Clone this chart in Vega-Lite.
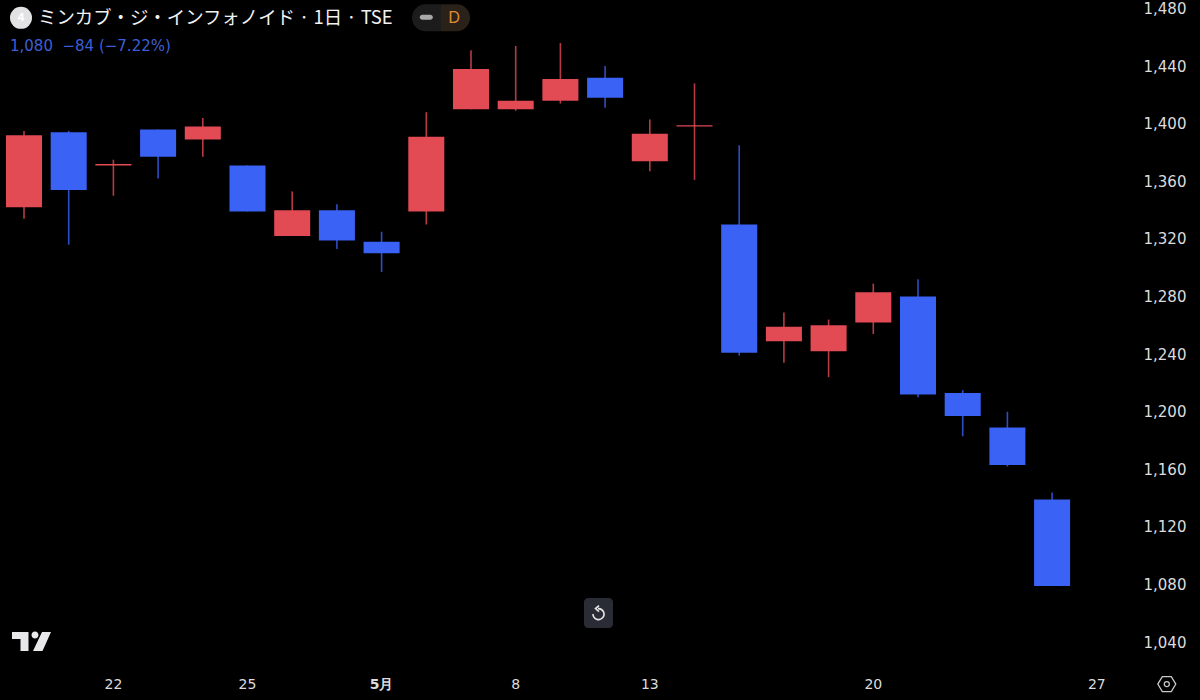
{
  "$schema": "https://vega.github.io/schema/vega-lite/v6.json",
  "width": 1130,
  "height": 670,
  "autosize": {"type": "none"},
  "padding": {"left": 0, "top": 0, "right": 70, "bottom": 30},
  "background": "#000000",
  "data": {
    "values": [
      {"date": "2024-04-18", "open": 1343, "high": 1396, "low": 1335, "close": 1393},
      {"date": "2024-04-19", "open": 1395, "high": 1396, "low": 1317, "close": 1355},
      {"date": "2024-04-22", "open": 1372, "high": 1376, "low": 1351, "close": 1373},
      {"date": "2024-04-23", "open": 1397, "high": 1397, "low": 1363, "close": 1378},
      {"date": "2024-04-24", "open": 1390, "high": 1405, "low": 1378, "close": 1399},
      {"date": "2024-04-25", "open": 1372, "high": 1372, "low": 1340, "close": 1340},
      {"date": "2024-04-26", "open": 1323, "high": 1354, "low": 1323, "close": 1341},
      {"date": "2024-04-30", "open": 1341, "high": 1345, "low": 1314, "close": 1320},
      {"date": "2024-05-01", "open": 1319, "high": 1326, "low": 1298, "close": 1311},
      {"date": "2024-05-02", "open": 1340, "high": 1409, "low": 1331, "close": 1392},
      {"date": "2024-05-07", "open": 1411, "high": 1452, "low": 1411, "close": 1439},
      {"date": "2024-05-08", "open": 1411, "high": 1455, "low": 1410, "close": 1417},
      {"date": "2024-05-09", "open": 1417, "high": 1457, "low": 1415, "close": 1432},
      {"date": "2024-05-10", "open": 1433, "high": 1441, "low": 1412, "close": 1419},
      {"date": "2024-05-13", "open": 1375, "high": 1404, "low": 1368, "close": 1394},
      {"date": "2024-05-14", "open": 1399, "high": 1429, "low": 1362, "close": 1400},
      {"date": "2024-05-15", "open": 1331, "high": 1386, "low": 1240, "close": 1242},
      {"date": "2024-05-16", "open": 1250, "high": 1270, "low": 1235, "close": 1260},
      {"date": "2024-05-17", "open": 1243, "high": 1265, "low": 1225, "close": 1261},
      {"date": "2024-05-20", "open": 1263, "high": 1290, "low": 1255, "close": 1284},
      {"date": "2024-05-21", "open": 1281, "high": 1293, "low": 1211, "close": 1213},
      {"date": "2024-05-22", "open": 1214, "high": 1216, "low": 1184, "close": 1198},
      {"date": "2024-05-23", "open": 1190, "high": 1201, "low": 1163, "close": 1164},
      {"date": "2024-05-24", "open": 1140, "high": 1145, "low": 1080, "close": 1080}
    ]
  },
  "encoding": {
    "x": {
      "field": "date",
      "type": "ordinal",
      "title": null,
      "scale": {
        "type": "band",
        "domain": ["2024-04-18", "2024-04-19", "2024-04-22", "2024-04-23", "2024-04-24", "2024-04-25", "2024-04-26", "2024-04-30", "2024-05-01", "2024-05-02", "2024-05-07", "2024-05-08", "2024-05-09", "2024-05-10", "2024-05-13", "2024-05-14", "2024-05-15", "2024-05-16", "2024-05-17", "2024-05-20", "2024-05-21", "2024-05-22", "2024-05-23", "2024-05-24", "2024-05-27"],
        "range": [1.65, 1119.15],
        "paddingInner": 0.194,
        "paddingOuter": 0.097
      },
      "axis": {
        "values": ["2024-04-22", "2024-04-25", "2024-05-01", "2024-05-08", "2024-05-13", "2024-05-20", "2024-05-27"],
        "labelExpr": "datum.value == '2024-05-01' ? '5月' : '' + toNumber(slice(datum.value, 8))",
        "labelFontWeight": {"expr": "datum.value == '2024-05-01' ? 'bold' : 'normal'"},
        "labelAngle": 0,
        "labelFont": "DejaVu Sans",
        "labelFontSize": 14,
        "labelColor": "#dcdcdc",
        "labelPadding": 7,
        "domain": false,
        "ticks": false,
        "grid": false
      }
    }
  },
  "layer": [
    {
      "mark": {"type": "rule", "strokeWidth": 1.6, "opacity": 0.8},
      "encoding": {
        "y": {
          "field": "high",
          "type": "quantitative",
          "title": null,
          "scale": {"domain": [1021.7, 1486.9], "nice": false, "zero": false},
          "axis": {
            "orient": "right",
            "values": [1040, 1080, 1120, 1160, 1200, 1240, 1280, 1320, 1360, 1400, 1440, 1480],
            "labelExpr": "format(datum.value, ',')",
            "labelFont": "DejaVu Sans",
            "labelFontSize": 15,
            "labelColor": "#dcdcdc",
            "labelPadding": 13,
            "labelOffset": -1.5,
            "domain": false,
            "ticks": false,
            "grid": false
          }
        },
        "y2": {"field": "low"},
        "color": {
          "condition": {"test": "datum.close >= datum.open", "value": "#e24a54"},
          "value": "#3a62f5"
        }
      }
    },
    {
      "mark": {"type": "bar"},
      "encoding": {
        "y": {"field": "open", "type": "quantitative"},
        "y2": {"field": "close"},
        "color": {
          "condition": {"test": "datum.close >= datum.open", "value": "#e24a54"},
          "value": "#3a62f5"
        }
      }
    },
    {
      "data": {"values": [{"date": "2024-04-18", "price": 1474.5}]},
      "mark": {"type": "point", "shape": "circle", "size": 484, "filled": true, "opacity": 1, "color": "#e2e2e4", "xOffset": -3},
      "encoding": {"y": {"field": "price", "type": "quantitative"}}
    },
    {
      "data": {"values": [{"date": "2024-04-18", "price": 1474.5, "label": "4"}]},
      "mark": {"type": "text", "font": "Inter", "fontSize": 11, "fontWeight": "bold", "color": "#ffffff", "dx": -3},
      "encoding": {"y": {"field": "price", "type": "quantitative"}, "text": {"field": "label"}}
    },
    {
      "data": {"values": [{"date": "2024-04-18", "price": 1474.5, "label": "ミンカブ・ジ・インフォノイド · 1日 · TSE"}]},
      "mark": {"type": "text", "font": "Noto Sans CJK JP", "fontSize": 18.4, "color": "#f2f2f2", "align": "left", "dx": 14},
      "encoding": {"y": {"field": "price", "type": "quantitative"}, "text": {"field": "label"}}
    },
    {
      "data": {"values": [{"date": "2024-04-18", "price": 1455, "label": "1,080\u00a0\u00a0−84 (−7.22%)"}]},
      "mark": {"type": "text", "font": "DejaVu Sans", "fontSize": 15, "color": "#3d5fd6", "align": "left", "dx": -14},
      "encoding": {"y": {"field": "price", "type": "quantitative"}, "text": {"field": "label"}}
    },
    {
      "data": {"values": [{"date": "2024-05-02", "price": 1474.5}]},
      "mark": {"type": "point", "filled": true, "opacity": 1, "size": 4, "color": "#1c1c1c", "xOffset": 14.7, "shape": "M0,-13.5 H-15.5 A13.5,13.5 0 0 0 -15.5,13.5 H0 Z"},
      "encoding": {"y": {"field": "price", "type": "quantitative"}}
    },
    {
      "data": {"values": [{"date": "2024-05-02", "price": 1474.5}]},
      "mark": {"type": "point", "filled": true, "opacity": 1, "size": 4, "color": "#2a2118", "xOffset": 14.7, "shape": "M0,-13.5 H15.5 A13.5,13.5 0 0 1 15.5,13.5 H0 Z"},
      "encoding": {"y": {"field": "price", "type": "quantitative"}}
    },
    {
      "data": {"values": [{"date": "2024-05-02", "price": 1475}]},
      "mark": {"type": "point", "filled": true, "opacity": 1, "size": 4, "color": "#a8a8a8", "shape": "M-4,-2.5 H4 A2.5,2.5 0 0 1 4,2.5 H-4 A2.5,2.5 0 0 1 -4,-2.5 Z"},
      "encoding": {"y": {"field": "price", "type": "quantitative"}}
    },
    {
      "data": {"values": [{"date": "2024-05-02", "price": 1474.5, "label": "D"}]},
      "mark": {"type": "text", "font": "Inter", "fontSize": 16.5, "color": "#e08a35", "dx": 28},
      "encoding": {"y": {"field": "price", "type": "quantitative"}, "text": {"field": "label"}}
    },
    {
      "data": {"values": [{"date": "2024-05-10", "price": 1061.2}]},
      "mark": {"type": "point", "filled": true, "opacity": 1, "size": 4, "color": "#2a2c35", "xOffset": -6.6, "shape": "M-10.5,-15 H10.5 A4,4 0 0 1 14.5,-11 V11 A4,4 0 0 1 10.5,15 H-10.5 A4,4 0 0 1 -14.5,11 V-11 A4,4 0 0 1 -10.5,-15 Z"},
      "encoding": {"y": {"field": "price", "type": "quantitative"}}
    },
    {
      "data": {"values": [{"date": "2024-05-10", "price": 1061.2}]},
      "mark": {"type": "point", "filled": false, "opacity": 1, "size": 4, "stroke": "#e6e6e6", "strokeWidth": 1.6, "xOffset": -6.6, "shape": "M-0.5,-4.5 A5.5,5.5 0 1 1 -5.5,1 M0.5,-7.5 L-3,-4.5 L0.5,-1.5"},
      "encoding": {"y": {"field": "price", "type": "quantitative"}}
    },
    {
      "data": {"values": [{"date": "2024-04-18", "price": 1041.8}]},
      "mark": {"type": "point", "filled": true, "opacity": 1, "size": 4, "color": "#e8e8ea", "xOffset": 7.5, "shape": "M-19.5,-9 H-3 V10 H-11 V-2 H-19.5 Z M7,-6 A3.5,3.5 0 1 1 0,-6 A3.5,3.5 0 1 1 7,-6 Z M10.5,-9 H19.5 L11,10 H1.5 Z"},
      "encoding": {"y": {"field": "price", "type": "quantitative"}}
    },
    {
      "data": {"values": [{"date": "2024-05-27", "price": 1011.9}]},
      "mark": {"type": "point", "filled": false, "opacity": 1, "size": 4, "stroke": "#c8c8c8", "strokeWidth": 1.3, "xOffset": 70, "shape": "M-4.5,-7.5 H4.5 L9,0 L4.5,7.5 H-4.5 L-9,0 Z M2.5,0 A2.5,2.5 0 1 1 -2.5,0 A2.5,2.5 0 1 1 2.5,0 Z"},
      "encoding": {"y": {"field": "price", "type": "quantitative"}}
    }
  ],
  "config": {"view": {"stroke": null}}
}
